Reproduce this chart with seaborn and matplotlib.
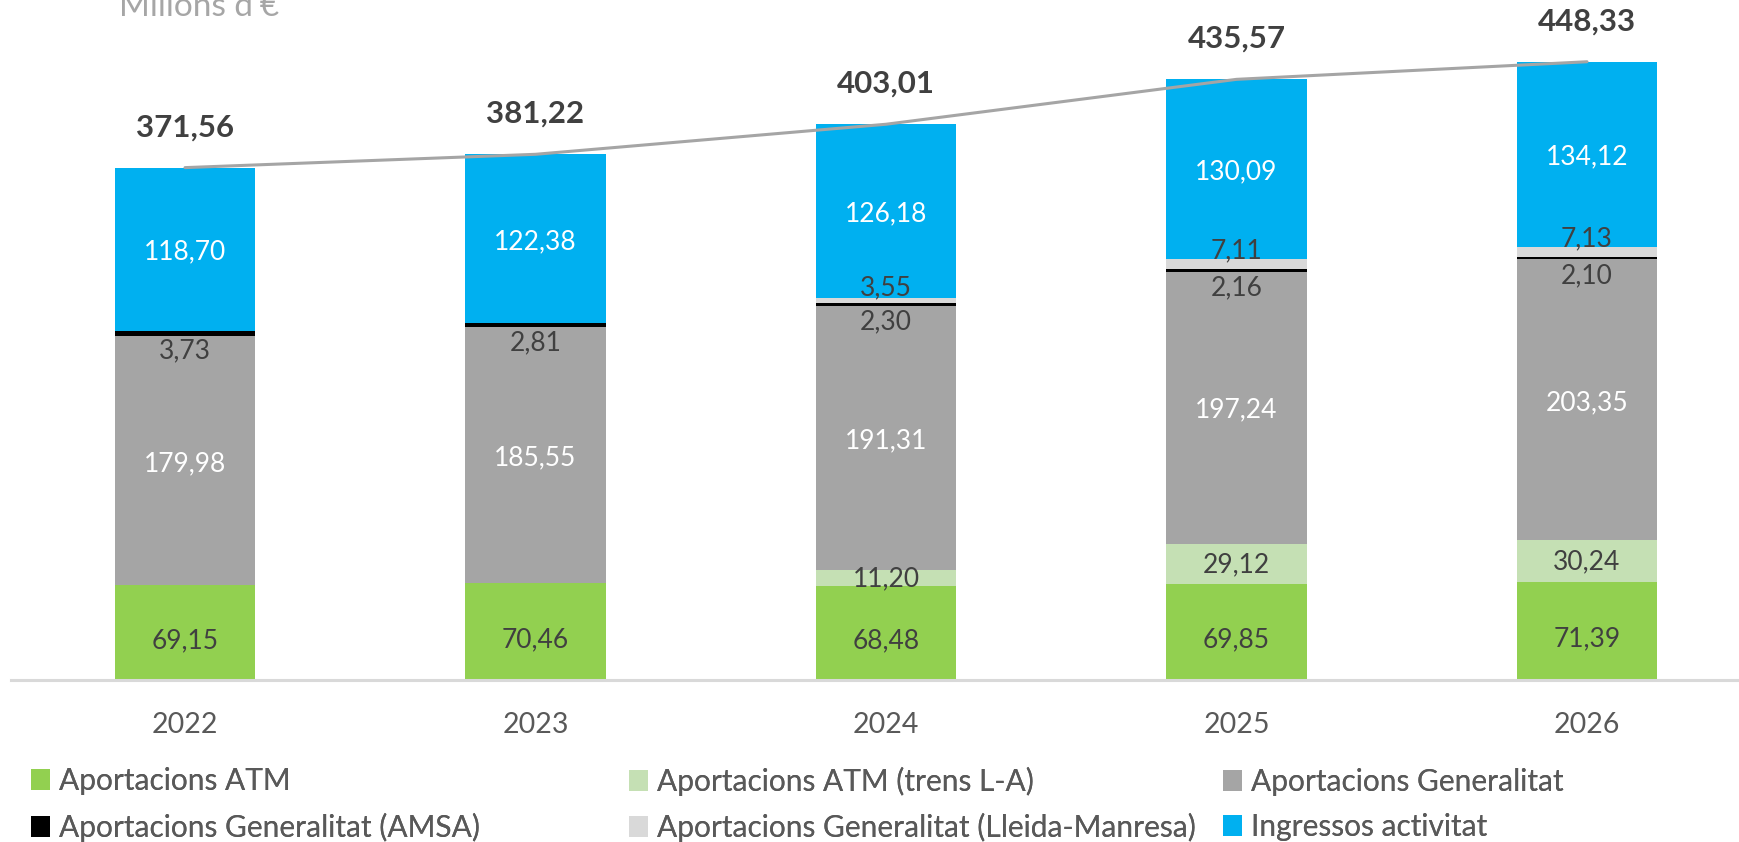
import numpy as np
import pandas as pd
import seaborn as sns
import matplotlib.pyplot as plt
from matplotlib.patches import Patch

# Data (millions of euros)
years = ['2022', '2023', '2024', '2025', '2026']
atm = [69.15, 70.46, 68.48, 69.85, 71.39]
atm_trens = [0, 0, 11.20, 29.12, 30.24]
generalitat = [179.98, 185.55, 191.31, 197.24, 203.35]
amsa = [3.73, 2.81, 2.30, 2.16, 2.10]
lleida = [0, 0, 3.55, 7.11, 7.13]
ingressos = [118.70, 122.38, 126.18, 130.09, 134.12]
totals = [371.56, 381.22, 403.01, 435.57, 448.33]

names = ['Aportacions ATM', 'Aportacions ATM (trens L-A)', 'Aportacions Generalitat',
         'Aportacions Generalitat (AMSA)', 'Aportacions Generalitat (Lleida-Manresa)',
         'Ingressos activitat']
colors = ['#92D050', '#C5E0B4', '#A5A5A5', '#000000', '#D9D9D9', '#00B0F0']
label_colors = ['#404040', '#404040', 'white', '#404040', '#404040', 'white']
# vertical offset (points) of the data label from the segment centre
label_offsets = [-6, -1, -2, -12.5, 9, -2]

sns.set_theme(style='white')
plt.rcParams['font.family'] = ['Lato', 'DejaVu Sans']

W, H = 1739, 842
fig = plt.figure(figsize=(W / 100, H / 100), dpi=100)
ax = fig.add_axes([11 / W, (H - 680) / H, (W - 11) / W, 680 / H])

x = np.arange(len(years))
bottom = np.zeros(len(years))
all_series = [atm, atm_trens, generalitat, amsa, lleida, ingressos]
for vals, c in zip(all_series, colors):
    vals = np.array(vals, dtype=float)
    sns.barplot(x=years, y=vals, order=years, bottom=bottom, color=c, width=0.4,
                saturation=1, linewidth=0, errorbar=None, ax=ax)
    bottom = bottom + vals

sns.lineplot(x=x, y=totals, color='#A5A5A5', linewidth=2.2, ax=ax, zorder=5)

# segment labels
bottom = np.zeros(len(years))
for vals, lc, off in zip(all_series, label_colors, label_offsets):
    for i, v in enumerate(vals):
        if v > 0:
            ax.annotate(f'{v:.2f}'.replace('.', ','), (i, bottom[i] + v / 2),
                        xytext=(0, off), textcoords='offset points',
                        ha='center', va='center', fontsize=19, color=lc, zorder=6)
    bottom = bottom + np.array(vals)

# totals above the bars
for i, t in enumerate(totals):
    ax.annotate(f'{t:.2f}'.replace('.', ','), (i, t), xytext=(0, 29),
                textcoords='offset points', ha='center', va='center',
                fontsize=22.5, fontweight='bold', color='#404040')

ax.set_xlim((11 - 185) / 350.5, (W - 185) / 350.5)
ax.set_ylim(0, 680 / 1.379)
ax.set_xticks(x, years)
ax.set_yticks([])
ax.set_xlabel('')
ax.set_ylabel('')
ax.tick_params(axis='x', length=0, pad=23, labelsize=20.5, labelcolor='#595959')
for s in ['top', 'left', 'right']:
    ax.spines[s].set_visible(False)
ax.spines['bottom'].set_color('#D9D9D9')
ax.spines['bottom'].set_linewidth(2.2)

fig.text(199 / W, (H - 16) / H, "Milions d'€", ha='center', va='baseline',
         fontsize=24, color='#A6A6A6')

# legend: three columns laid out as in the original
columns = [[0, 3], [1, 4], [2, 5]]
col_x = [31, 629, 1223]
for cx, idx in zip(col_x, columns):
    handles = [Patch(facecolor=colors[k], edgecolor='none', label=names[k]) for k in idx]
    leg = fig.legend(handles=handles, loc='center left',
                     bbox_to_anchor=(cx / W, (H - 804.5) / H), bbox_transform=fig.transFigure,
                     frameon=False, fontsize=21.5, handlelength=0.62, handleheight=0.7,
                     handletextpad=0.33, labelspacing=0.58, borderpad=0, borderaxespad=0,
                     labelcolor='#595959')
    fig.add_artist(leg)

fig.savefig('out.png', dpi=100)
